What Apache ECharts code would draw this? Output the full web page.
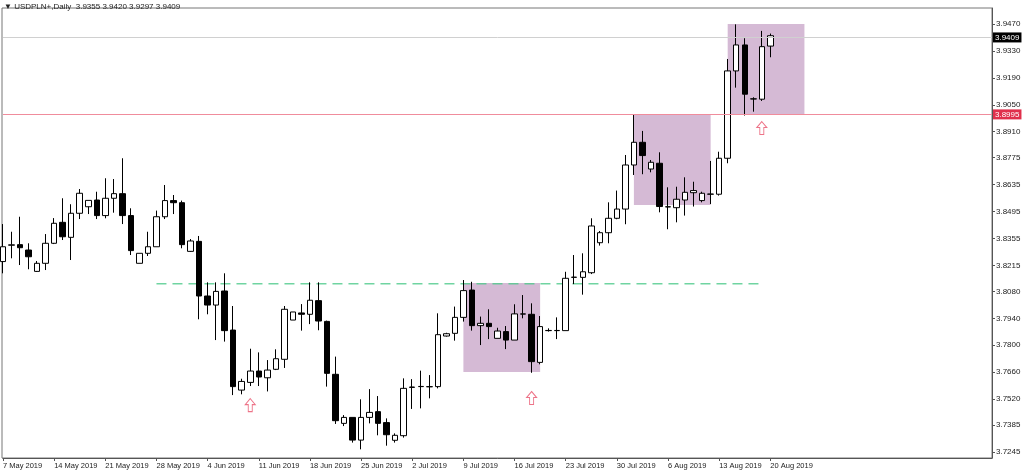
<!DOCTYPE html>
<html><head><meta charset="utf-8">
<script src="https://cdn.jsdelivr.net/npm/echarts@6/dist/echarts.min.js"></script>
<style>html,body{margin:0;padding:0;background:#fff}#c{width:1024px;height:474px}</style>
</head><body><div id="c"></div>
<script>
const tickLabels = ['7 May 2019','14 May 2019','21 May 2019','28 May 2019','4 Jun 2019','11 Jun 2019','18 Jun 2019','25 Jun 2019','2 Jul 2019','9 Jul 2019','16 Jul 2019','23 Jul 2019','30 Jul 2019','6 Aug 2019','13 Aug 2019','20 Aug 2019'];
const priceTicks = [3.7245,3.7385,3.7520,3.7660,3.7800,3.7940,3.8080,3.8215,3.8355,3.8495,3.8635,3.8775,3.8910,3.9050,3.9190,3.9330,3.9470];
const opens = [3.8235,3.8320,3.8323,3.8295,3.8184,3.8226,3.8330,3.8439,3.8361,3.8486,
3.8520,3.8555,3.8474,3.8564,3.8588,3.8474,3.8226,3.8278,3.8312,3.8468,
3.8552,3.8541,3.8288,3.8340,3.8056,3.8009,3.8082,3.7879,3.7567,3.7607,
3.7666,3.7631,3.7675,3.7727,3.7931,3.7968,3.7961,3.8032,3.7924,3.7649,
3.7394,3.7425,3.7307,3.7425,3.7455,3.7398,3.7306,3.7330,3.7581,3.7585,
3.7584,3.7585,3.7848,3.7862,3.7945,3.8087,3.7902,3.7914,3.7836,3.7871,
3.7827,3.7963,3.7961,3.7711,3.7876,3.7876,3.7876,3.8153,3.8153,3.8177,
3.8333,3.8385,3.8460,3.8508,3.8737,3.8855,3.8716,3.8746,3.8519,3.8515,
3.8555,3.8593,3.8552,3.8585,3.8585,3.8772,3.9226,3.9361,3.9080,3.9079,
3.9355];
const closes = [3.8312,3.8322,3.8307,3.8260,3.8226,3.8330,3.8434,3.8364,3.8486,3.8590,
3.8553,3.8474,3.8564,3.8588,3.8474,3.8292,3.8278,3.8312,3.8468,3.8552,
3.8541,3.8323,3.8342,3.8056,3.8009,3.8080,3.7876,3.7585,3.7612,3.7666,
3.7635,3.7671,3.7730,3.7987,3.7973,3.7961,3.8034,3.7926,3.7654,3.7408,
3.7425,3.7307,3.7425,3.7451,3.7394,3.7335,3.7332,3.7576,3.7583,3.7586,
3.7585,3.7855,3.7860,3.7945,3.8084,3.7902,3.7914,3.7897,3.7874,3.7827,
3.7963,3.7962,3.7715,3.7897,3.7877,3.7877,3.8148,3.8154,3.8182,3.8420,
3.8385,3.8460,3.8508,3.8737,3.8855,3.8786,3.8751,3.8521,3.8520,3.8559,
3.8595,3.8604,3.8590,3.8586,3.8772,3.9226,3.9361,3.9105,3.9081,3.9352,
3.9409];
const lows = [3.8174,3.8252,3.8217,3.8195,3.8181,3.8191,3.8326,3.8347,3.8243,3.8456,
3.8482,3.8456,3.8460,3.8489,3.8430,3.8269,3.8226,3.8264,3.8312,3.8456,
3.8482,3.8304,3.8286,3.7935,3.7961,3.7827,3.7819,3.7541,3.7545,3.7588,
3.7588,3.7560,3.7671,3.7682,3.7931,3.7876,3.7910,3.7878,3.7585,3.7391,
3.7380,3.7294,3.7259,3.7394,3.7332,3.7278,3.7294,3.7320,3.7469,3.7472,
3.7524,3.7576,3.7845,3.7824,3.7923,3.7876,3.7801,3.7832,3.7836,3.7780,
3.7827,3.7940,3.7657,3.7701,3.7871,3.7832,3.7876,3.8118,3.8063,3.8170,
3.8318,3.8330,3.8455,3.8429,3.8685,3.8689,3.8699,3.8491,3.8403,3.8439,
3.8474,3.8521,3.8543,3.8534,3.8578,3.8746,3.9139,3.8994,3.9014,3.9070,
3.9297];
const highs = [3.8430,3.8390,3.8468,3.8330,3.8238,3.8378,3.8461,3.8564,3.8533,3.8612,
3.8553,3.8598,3.8668,3.8664,3.8772,3.8512,3.8278,3.8390,3.8500,3.8633,
3.8581,3.8552,3.8352,3.8368,3.8127,3.8127,3.8174,3.8004,3.7626,3.7782,
3.7763,3.7723,3.7779,3.8004,3.7973,3.8014,3.8127,3.8127,3.7928,3.7741,
3.7437,3.7425,3.7519,3.7572,3.7536,3.7420,3.7342,3.7628,3.7624,3.7668,
3.7645,3.7966,3.7865,3.8001,3.8139,3.8130,3.7949,3.7987,3.7891,3.7900,
3.8013,3.8061,3.8018,3.7952,3.7888,3.7945,3.8182,3.8269,3.8278,3.8460,
3.8394,3.8543,3.8604,3.8789,3.8997,3.8914,3.8763,3.8803,3.8621,3.8624,
3.8673,3.8650,3.8598,3.8758,3.8806,3.9288,3.9468,3.9396,3.9089,3.9434,
3.9420];
const boxes = [[54,3.8124,63,3.7661],[74,3.8997,83,3.8529],[85,3.9470,94,3.8997]];
const resistance = 3.8995, lastPrice = 3.9409;
const support = {from:18, to:89, value:3.8120};
const arrows = [[28.6,3.7489],[61.8,3.7526],[88.8,3.8929]];

const N = 117;
const cats = Array.from({length:N},(_, i)=>String(i));
const data = opens.map((o,i)=>[o,closes[i],lows[i],highs[i]]);
const chart = echarts.init(document.getElementById('c'));
const arrowPath = 'path://M5,0 L10,6 L7,6 L7,13 L3,13 L3,6 L0,6 Z';
chart.setOption({
  animation:false, backgroundColor:'#fff',
  textStyle:{fontFamily:'Liberation Sans'},
  grid:{left:2,right:32,top:8,bottom:16},
  xAxis:{type:'category',data:cats,boundaryGap:false,
    axisLine:{lineStyle:{color:'#555'}},
    axisTick:{interval:(i)=>i%6===0&&i<=90,length:3,lineStyle:{color:'#555'}},
    axisLabel:{interval:(i)=>i%6===0&&i<=90,hideOverlap:false,formatter:(v,i)=>tickLabels[i/6]||'',align:'left',fontSize:7.5,fontFamily:'Liberation Sans',color:'#222',margin:4},
    splitLine:{show:false}},
  yAxis:{type:'value',position:'right',min:3.7214,max:3.9553,scale:true,
    axisLine:{show:true,lineStyle:{color:'#555'}},
    axisTick:{show:true,customValues:priceTicks,length:3,lineStyle:{color:'#555'}},
    axisLabel:{customValues:priceTicks,formatter:(v)=>v.toFixed(4),fontSize:8,fontFamily:'Liberation Sans',color:'#222',margin:4},
    splitLine:{show:false}},
  graphic:[
    {type:'rect',shape:{x:2,y:8,width:990,height:450},style:{fill:'none',stroke:'#777',lineWidth:1},z:-1},
    {type:'text',left:4,top:3,style:{text:'▼ USDPLN+,Daily  3.9355 3.9420 3.9297 3.9409',fontSize:8,fill:'#222',fontFamily:'Liberation Sans'}}
  ],
  series:[
    {type:'candlestick',data:data,barWidth:6,z:3,
      itemStyle:{color:'#fff',color0:'#000',borderColor:'#000',borderColor0:'#000',borderWidth:1},
      markArea:{silent:true,itemStyle:{color:'rgba(185,140,185,0.6)'},z:1,
        data:boxes.map(b=>[{xAxis:b[0],yAxis:b[1]},{xAxis:b[2],yAxis:b[3]}])},
      markLine:{silent:true,symbol:'none',animation:false,
        data:[
          {yAxis:resistance,lineStyle:{color:'#f08c9c',type:'solid',width:1.2},
            label:{show:true,position:'end',formatter:resistance.toFixed(4),color:'#fff',backgroundColor:'#e0304c',padding:[1,2],fontSize:8,distance:1}},
          {yAxis:lastPrice,lineStyle:{color:'#d0d0d0',type:'solid',width:1},
            label:{show:true,position:'end',formatter:lastPrice.toFixed(4),color:'#fff',backgroundColor:'#000',padding:[1,2],fontSize:8,distance:1}}
        ]}
    },
    {type:'line',data:[[support.from,support.value],[support.to,support.value]],symbol:'none',silent:true,z:2,
      itemStyle:{color:'#4cc98a'},lineStyle:{color:'#4cc98a',type:[10,6],width:1.5,opacity:0.8}},
    {type:'scatter',data:arrows,symbol:arrowPath,symbolSize:[10,13],z:4,
      itemStyle:{color:'#fff',borderColor:'#e8506a',borderWidth:1}}
  ]
});
</script></body></html>
